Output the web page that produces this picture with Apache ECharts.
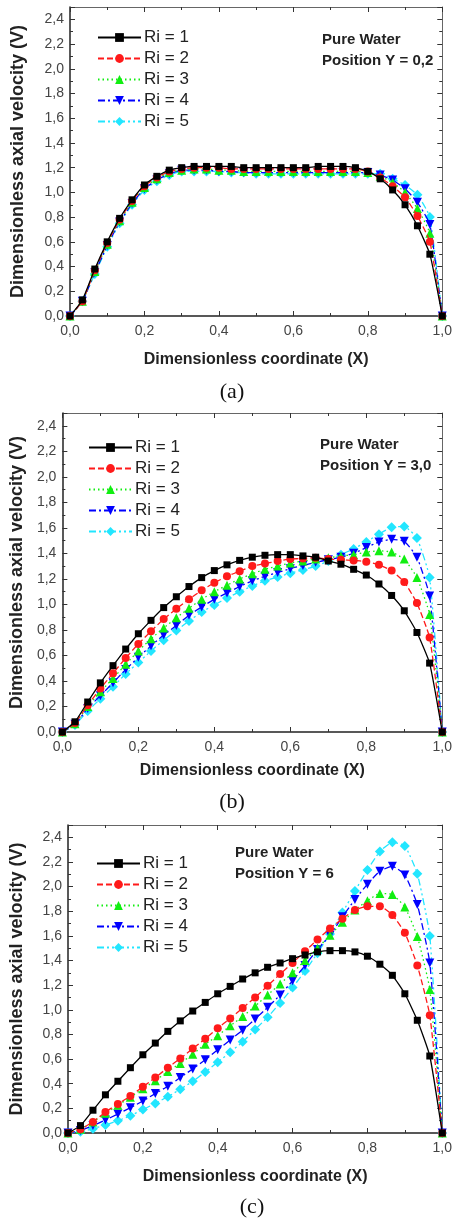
<!DOCTYPE html>
<html>
<head>
<meta charset="utf-8">
<script src="https://cdn.jsdelivr.net/npm/echarts@6/dist/echarts.min.js"></script>
<style>
html,body{margin:0;padding:0;background:#fff;}
#chart{width:455px;height:1222px;}
</style>
</head>
<body>
<div id="chart"></div>
<script>
// X sample positions (dimensionless coordinate)
const X = [0,0.0333,0.0667,0.1,0.1333,0.1667,0.2,0.2333,0.2667,0.3,0.3333,0.3667,0.4,0.4333,0.4667,0.5,0.5333,0.5667,0.6,0.6333,0.6667,0.7,0.7333,0.7667,0.8,0.8333,0.8667,0.9,0.9333,0.9667,1.0];

const seriesNames = ['Ri = 1','Ri = 2','Ri = 3','Ri = 4','Ri = 5'];
const panelCaptions = ['(a)','(b)','(c)'];
const panelNotes = [['Pure Water','Position Y = 0,2'],['Pure Water','Position Y = 3,0'],['Pure Water','Position Y = 6']];
const xAxisTitle = 'Dimensionless coordinate (X)';
const yAxisTitle = 'Dimensionless axial velocity (V)';

// Panel (a): Y = 0.2
const a_Ri1 = [0,0.13,0.38,0.60,0.79,0.94,1.06,1.13,1.18,1.20,1.21,1.21,1.21,1.21,1.20,1.20,1.20,1.20,1.20,1.20,1.21,1.21,1.21,1.20,1.17,1.11,1.02,0.90,0.73,0.50,0];
const a_Ri2 = [0,0.12,0.37,0.59,0.78,0.93,1.05,1.12,1.17,1.19,1.20,1.20,1.20,1.19,1.19,1.19,1.19,1.19,1.19,1.19,1.19,1.19,1.19,1.19,1.17,1.12,1.05,0.96,0.81,0.60,0];
const a_Ri3 = [0,0.12,0.36,0.58,0.77,0.92,1.04,1.11,1.16,1.18,1.19,1.19,1.18,1.18,1.17,1.17,1.17,1.17,1.17,1.17,1.17,1.17,1.17,1.17,1.16,1.13,1.08,1.00,0.87,0.67,0];
const a_Ri4 = [0,0.12,0.35,0.57,0.76,0.91,1.03,1.10,1.15,1.18,1.18,1.18,1.17,1.17,1.16,1.16,1.16,1.16,1.16,1.16,1.16,1.16,1.16,1.16,1.16,1.14,1.10,1.03,0.92,0.74,0];
const a_Ri5 = [0,0.12,0.34,0.56,0.75,0.90,1.02,1.09,1.14,1.17,1.17,1.17,1.17,1.16,1.16,1.15,1.15,1.15,1.15,1.15,1.15,1.15,1.15,1.15,1.15,1.15,1.11,1.06,0.98,0.80,0];

// Panel (b): Y = 3.0
const b_Ri1 = [0,0.08,0.235,0.385,0.52,0.65,0.77,0.875,0.975,1.06,1.14,1.21,1.265,1.31,1.345,1.37,1.385,1.39,1.39,1.38,1.37,1.34,1.315,1.275,1.23,1.16,1.07,0.95,0.78,0.54,0];
const b_Ri2 = [0,0.07,0.21,0.34,0.46,0.58,0.69,0.79,0.885,0.965,1.04,1.11,1.17,1.22,1.26,1.30,1.32,1.34,1.355,1.36,1.365,1.355,1.35,1.345,1.335,1.31,1.265,1.175,1.01,0.74,0];
const b_Ri3 = [0,0.065,0.20,0.315,0.42,0.53,0.635,0.73,0.815,0.895,0.97,1.04,1.10,1.15,1.20,1.24,1.275,1.30,1.325,1.34,1.355,1.365,1.38,1.39,1.41,1.42,1.41,1.355,1.21,0.92,0];
const b_Ri4 = [0,0.06,0.185,0.285,0.385,0.49,0.585,0.675,0.76,0.835,0.915,0.98,1.04,1.09,1.14,1.185,1.22,1.25,1.28,1.305,1.33,1.35,1.37,1.40,1.445,1.49,1.51,1.495,1.37,1.065,0];
const b_Ri5 = [0,0.055,0.165,0.26,0.355,0.455,0.545,0.635,0.72,0.795,0.87,0.94,0.995,1.05,1.10,1.145,1.185,1.215,1.245,1.27,1.30,1.34,1.39,1.435,1.49,1.55,1.605,1.61,1.52,1.21,0];

// Panel (c): Y = 6
const c_Ri1 = [0,0.06,0.185,0.31,0.42,0.53,0.635,0.73,0.825,0.91,0.99,1.06,1.13,1.19,1.25,1.30,1.345,1.38,1.415,1.445,1.47,1.48,1.48,1.47,1.435,1.37,1.28,1.13,0.915,0.625,0];
const c_Ri2 = [0,0.03,0.09,0.17,0.235,0.30,0.375,0.45,0.53,0.605,0.685,0.765,0.85,0.93,1.015,1.10,1.195,1.29,1.38,1.475,1.57,1.66,1.74,1.81,1.84,1.84,1.77,1.625,1.36,0.955,0];
const c_Ri3 = [0,0.03,0.09,0.16,0.225,0.29,0.36,0.425,0.50,0.565,0.64,0.72,0.79,0.87,0.945,1.03,1.12,1.21,1.30,1.40,1.50,1.605,1.71,1.81,1.885,1.945,1.935,1.835,1.595,1.165,0];
const c_Ri4 = [0,0.02,0.06,0.105,0.155,0.205,0.26,0.32,0.38,0.45,0.52,0.595,0.675,0.755,0.835,0.925,1.02,1.12,1.235,1.36,1.49,1.605,1.755,1.895,2.02,2.125,2.165,2.095,1.855,1.38,0];
const c_Ri5 = [0,0.01,0.035,0.065,0.10,0.14,0.19,0.24,0.295,0.355,0.42,0.495,0.575,0.655,0.74,0.84,0.94,1.055,1.18,1.315,1.46,1.615,1.79,1.965,2.135,2.285,2.36,2.33,2.105,1.60,0];

const panels = [
  [a_Ri1,a_Ri2,a_Ri3,a_Ri4,a_Ri5],
  [b_Ri1,b_Ri2,b_Ri3,b_Ri4,b_Ri5],
  [c_Ri1,c_Ri2,c_Ri3,c_Ri4,c_Ri5]
];

// ---- styling / layout ----
const styles = [
  {color:'#000000', symbol:'rect', size:7, rot:0, dash:'solid'},
  {color:'#ff1a1a', symbol:'circle', size:8, rot:0, dash:[6,3]},
  {color:'#11ee11', symbol:'triangle', size:9, rot:0, dash:[1.5,3]},
  {color:'#0000ff', symbol:'triangle', size:9, rot:180, dash:[7,3,2,3]},
  {color:'#22e6ff', symbol:'diamond', size:10, rot:0, dash:[7,3,2,3,2,3]}
];
const grids = [
  {left:70, top:7, width:376, height:309, yGap:43, xGap:36, legL:92, legT:24, noteX:322, noteY:29, capX:232, capY:392},
  {left:62, top:413, width:385, height:319, yGap:35, xGap:31, legL:83, legT:434, noteX:320, noteY:434, capX:232, capY:802},
  {left:68, top:825, width:378, height:308, yGap:42, xGap:36, legL:91, legT:850, noteX:235, noteY:842, capX:252, capY:1207}
];
const SANS = '"Liberation Sans", Arial, sans-serif';
const fmt = v => (Math.abs(v*5 - Math.round(v*5)) > 1e-6) ? '' : v.toFixed(1).replace('.', ',');

const option = {
  animation:false,
  backgroundColor:'#fff',
  grid:[], xAxis:[], yAxis:[], series:[], legend:[], title:[]
};

grids.forEach((g,i)=>{
  option.grid.push({left:g.left, top:g.top, width:g.width, height:g.height, containLabel:false});
  const main = {onZero:false, lineStyle:{color:'#222', width:1.5}};
  const frame = {onZero:false, lineStyle:{color:'#666', width:1}};
  const tick = {inside:true, length:5, lineStyle:{color:'#333', width:1}};
  const minor = {show:true, splitNumber:2, length:3, lineStyle:{color:'#333', width:1}};
  option.xAxis.push({
    type:'value', gridIndex:i, min:0, max:1, interval:0.2, position:'bottom',
    axisLine:main, axisTick:tick, minorTick:minor, splitLine:{show:false},
    axisLabel:{formatter:fmt, fontSize:14, color:'#444', fontFamily:SANS, margin:8},
    name:xAxisTitle, nameLocation:'middle', nameGap:g.xGap,
    nameTextStyle:{fontWeight:'bold', fontSize:16, color:'#222', fontFamily:SANS}
  });
  option.xAxis.push({
    type:'value', gridIndex:i, min:0, max:1, interval:0.2, position:'top',
    axisLine:frame, axisTick:tick, minorTick:minor, splitLine:{show:false},
    axisLabel:{show:false}
  });
  option.yAxis.push({
    type:'value', gridIndex:i, min:0, max:2.5, interval:0.2, position:'left',
    axisLine:main, axisTick:tick, minorTick:minor, splitLine:{show:false},
    axisLabel:{formatter:fmt, fontSize:14, color:'#444', fontFamily:SANS, margin:6},
    name:yAxisTitle, nameLocation:'middle', nameGap:g.yGap,
    nameTextStyle:{fontWeight:'bold', fontSize:18, color:'#222', fontFamily:SANS}
  });
  option.yAxis.push({
    type:'value', gridIndex:i, min:0, max:2.5, interval:0.2, position:'right',
    axisLine:frame, axisTick:tick, minorTick:minor, splitLine:{show:false},
    axisLabel:{show:false}
  });
  panels[i].forEach((vals,k)=>{
    const s = styles[k];
    option.series.push({
      type:'line', name:seriesNames[k], xAxisIndex:2*i, yAxisIndex:2*i,
      data: X.map((x,j)=>[x, vals[j]]),
      smooth:0.15, symbol:s.symbol, symbolSize:s.size, symbolRotate:s.rot,
      showAllSymbol:true, z: 10 - k,
      lineStyle:{color:s.color, width:1.3, type:s.dash},
      itemStyle:{color:s.color}
    });
  });
  option.legend.push({
    orient:'vertical', left:g.legL, top:g.legT, itemWidth:43, itemHeight:11, itemGap:4,
    data:seriesNames, selectedMode:false,
    textStyle:{fontSize:17, color:'#222', fontFamily:SANS, padding:[0,0,0,-2]}
  });
  option.title.push({
    text:panelNotes[i][0]+'\n'+panelNotes[i][1], left:g.noteX, top:g.noteY, padding:0,
    textStyle:{fontSize:15, fontWeight:'bold', color:'#222', fontFamily:SANS, lineHeight:21}
  });
  option.title.push({
    text:panelCaptions[i], left:g.capX, top:g.capY, padding:0, textAlign:'center', textVerticalAlign:'middle',
    textStyle:{fontSize:22, fontWeight:'normal', color:'#111', fontFamily:'"Liberation Serif", "Times New Roman", serif'}
  });
});

const chart = echarts.init(document.getElementById('chart'), null, {renderer:'canvas'});
chart.setOption(option);
</script>
</body>
</html>
